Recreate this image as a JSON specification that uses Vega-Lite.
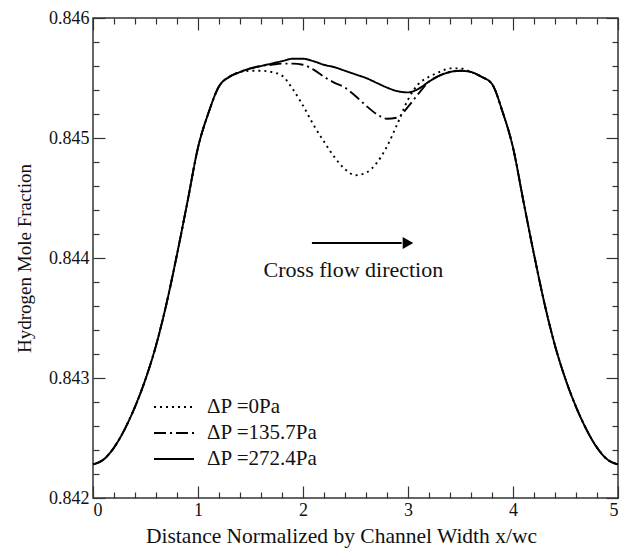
{
  "$schema": "https://vega.github.io/schema/vega-lite/v6.json",
  "width": 525,
  "height": 480,
  "autosize": {"type": "none"},
  "padding": {"left": 93, "top": 18, "right": 12, "bottom": 50},
  "background": "white",
  "config": {
    "view": {"stroke": "#333", "strokeWidth": 1.5},
    "font": "Liberation Serif, DejaVu Serif, serif",
    "axis": {
      "domain": false, "grid": false,
      "labelFont": "Liberation Serif, DejaVu Serif, serif", "labelFontSize": 18, "labelColor": "#111",
      "tickColor": "#333", "tickWidth": 1.2,
      "titleFont": "Liberation Serif, DejaVu Serif, serif", "titleFontSize": 19, "titleFontWeight": "normal", "titleColor": "#111",
      "labelOverlap": false
    }
  },
  "datasets": {
    "curves": [
      {"x":0,"y":0.84228,"s":"ΔP =272.4Pa"},{"x":0.1,"y":0.84232,"s":"ΔP =272.4Pa"},{"x":0.2,"y":0.84242,"s":"ΔP =272.4Pa"},{"x":0.3,"y":0.84257,"s":"ΔP =272.4Pa"},{"x":0.4,"y":0.84276,"s":"ΔP =272.4Pa"},{"x":0.5,"y":0.84299,"s":"ΔP =272.4Pa"},{"x":0.6,"y":0.84327,"s":"ΔP =272.4Pa"},{"x":0.7,"y":0.84362,"s":"ΔP =272.4Pa"},{"x":0.8,"y":0.84403,"s":"ΔP =272.4Pa"},{"x":0.9,"y":0.84447,"s":"ΔP =272.4Pa"},{"x":1.0,"y":0.84492,"s":"ΔP =272.4Pa"},{"x":1.1,"y":0.84521,"s":"ΔP =272.4Pa"},{"x":1.2,"y":0.84543,"s":"ΔP =272.4Pa"},{"x":1.3,"y":0.84551,"s":"ΔP =272.4Pa"},{"x":1.4,"y":0.84555,"s":"ΔP =272.4Pa"},{"x":1.5,"y":0.84558,"s":"ΔP =272.4Pa"},{"x":1.6,"y":0.8456,"s":"ΔP =272.4Pa"},{"x":1.7,"y":0.84562,"s":"ΔP =272.4Pa"},{"x":1.8,"y":0.84564,"s":"ΔP =272.4Pa"},{"x":1.9,"y":0.84566,"s":"ΔP =272.4Pa"},{"x":2.0,"y":0.84566,"s":"ΔP =272.4Pa"},{"x":2.1,"y":0.84564,"s":"ΔP =272.4Pa"},{"x":2.2,"y":0.84561,"s":"ΔP =272.4Pa"},{"x":2.3,"y":0.84559,"s":"ΔP =272.4Pa"},{"x":2.4,"y":0.84556,"s":"ΔP =272.4Pa"},{"x":2.5,"y":0.84553,"s":"ΔP =272.4Pa"},{"x":2.6,"y":0.8455,"s":"ΔP =272.4Pa"},{"x":2.7,"y":0.84546,"s":"ΔP =272.4Pa"},{"x":2.8,"y":0.84542,"s":"ΔP =272.4Pa"},{"x":2.9,"y":0.84539,"s":"ΔP =272.4Pa"},{"x":3.0,"y":0.84538,"s":"ΔP =272.4Pa"},{"x":3.1,"y":0.84541,"s":"ΔP =272.4Pa"},{"x":3.2,"y":0.84547,"s":"ΔP =272.4Pa"},{"x":3.3,"y":0.84552,"s":"ΔP =272.4Pa"},{"x":3.4,"y":0.84555,"s":"ΔP =272.4Pa"},{"x":3.5,"y":0.84556,"s":"ΔP =272.4Pa"},{"x":3.6,"y":0.84555,"s":"ΔP =272.4Pa"},{"x":3.7,"y":0.84551,"s":"ΔP =272.4Pa"},{"x":3.8,"y":0.84545,"s":"ΔP =272.4Pa"},{"x":3.9,"y":0.84522,"s":"ΔP =272.4Pa"},{"x":4.0,"y":0.84492,"s":"ΔP =272.4Pa"},{"x":4.1,"y":0.84447,"s":"ΔP =272.4Pa"},{"x":4.2,"y":0.84403,"s":"ΔP =272.4Pa"},{"x":4.3,"y":0.84362,"s":"ΔP =272.4Pa"},{"x":4.4,"y":0.84327,"s":"ΔP =272.4Pa"},{"x":4.5,"y":0.84299,"s":"ΔP =272.4Pa"},{"x":4.6,"y":0.84276,"s":"ΔP =272.4Pa"},{"x":4.7,"y":0.84257,"s":"ΔP =272.4Pa"},{"x":4.8,"y":0.84242,"s":"ΔP =272.4Pa"},{"x":4.9,"y":0.84232,"s":"ΔP =272.4Pa"},{"x":5.0,"y":0.84228,"s":"ΔP =272.4Pa"},

      {"x":0,"y":0.84228,"s":"ΔP =135.7Pa"},{"x":0.1,"y":0.84232,"s":"ΔP =135.7Pa"},{"x":0.2,"y":0.84242,"s":"ΔP =135.7Pa"},{"x":0.3,"y":0.84257,"s":"ΔP =135.7Pa"},{"x":0.4,"y":0.84276,"s":"ΔP =135.7Pa"},{"x":0.5,"y":0.84299,"s":"ΔP =135.7Pa"},{"x":0.6,"y":0.84327,"s":"ΔP =135.7Pa"},{"x":0.7,"y":0.84362,"s":"ΔP =135.7Pa"},{"x":0.8,"y":0.84403,"s":"ΔP =135.7Pa"},{"x":0.9,"y":0.84447,"s":"ΔP =135.7Pa"},{"x":1.0,"y":0.84492,"s":"ΔP =135.7Pa"},{"x":1.1,"y":0.84521,"s":"ΔP =135.7Pa"},{"x":1.2,"y":0.84543,"s":"ΔP =135.7Pa"},{"x":1.3,"y":0.84551,"s":"ΔP =135.7Pa"},{"x":1.4,"y":0.84555,"s":"ΔP =135.7Pa"},{"x":1.5,"y":0.84558,"s":"ΔP =135.7Pa"},{"x":1.6,"y":0.8456,"s":"ΔP =135.7Pa"},{"x":1.7,"y":0.84561,"s":"ΔP =135.7Pa"},{"x":1.8,"y":0.84562,"s":"ΔP =135.7Pa"},{"x":1.9,"y":0.84562,"s":"ΔP =135.7Pa"},{"x":2.0,"y":0.84561,"s":"ΔP =135.7Pa"},{"x":2.1,"y":0.84557,"s":"ΔP =135.7Pa"},{"x":2.2,"y":0.84551,"s":"ΔP =135.7Pa"},{"x":2.3,"y":0.84546,"s":"ΔP =135.7Pa"},{"x":2.4,"y":0.84542,"s":"ΔP =135.7Pa"},{"x":2.5,"y":0.84535,"s":"ΔP =135.7Pa"},{"x":2.6,"y":0.84527,"s":"ΔP =135.7Pa"},{"x":2.7,"y":0.8452,"s":"ΔP =135.7Pa"},{"x":2.8,"y":0.84516,"s":"ΔP =135.7Pa"},{"x":2.9,"y":0.84517,"s":"ΔP =135.7Pa"},{"x":3.0,"y":0.84526,"s":"ΔP =135.7Pa"},{"x":3.1,"y":0.84537,"s":"ΔP =135.7Pa"},{"x":3.2,"y":0.84547,"s":"ΔP =135.7Pa"},{"x":3.3,"y":0.84552,"s":"ΔP =135.7Pa"},{"x":3.4,"y":0.84555,"s":"ΔP =135.7Pa"},{"x":3.5,"y":0.84556,"s":"ΔP =135.7Pa"},{"x":3.6,"y":0.84555,"s":"ΔP =135.7Pa"},{"x":3.7,"y":0.84551,"s":"ΔP =135.7Pa"},{"x":3.8,"y":0.84545,"s":"ΔP =135.7Pa"},{"x":3.9,"y":0.84522,"s":"ΔP =135.7Pa"},{"x":4.0,"y":0.84492,"s":"ΔP =135.7Pa"},{"x":4.1,"y":0.84447,"s":"ΔP =135.7Pa"},{"x":4.2,"y":0.84403,"s":"ΔP =135.7Pa"},{"x":4.3,"y":0.84362,"s":"ΔP =135.7Pa"},{"x":4.4,"y":0.84327,"s":"ΔP =135.7Pa"},{"x":4.5,"y":0.84299,"s":"ΔP =135.7Pa"},{"x":4.6,"y":0.84276,"s":"ΔP =135.7Pa"},{"x":4.7,"y":0.84257,"s":"ΔP =135.7Pa"},{"x":4.8,"y":0.84242,"s":"ΔP =135.7Pa"},{"x":4.9,"y":0.84232,"s":"ΔP =135.7Pa"},{"x":5.0,"y":0.84228,"s":"ΔP =135.7Pa"},

      {"x":0,"y":0.84228,"s":"ΔP =0Pa"},{"x":0.1,"y":0.84232,"s":"ΔP =0Pa"},{"x":0.2,"y":0.84242,"s":"ΔP =0Pa"},{"x":0.3,"y":0.84257,"s":"ΔP =0Pa"},{"x":0.4,"y":0.84276,"s":"ΔP =0Pa"},{"x":0.5,"y":0.84299,"s":"ΔP =0Pa"},{"x":0.6,"y":0.84327,"s":"ΔP =0Pa"},{"x":0.7,"y":0.84362,"s":"ΔP =0Pa"},{"x":0.8,"y":0.84403,"s":"ΔP =0Pa"},{"x":0.9,"y":0.84447,"s":"ΔP =0Pa"},{"x":1.0,"y":0.84492,"s":"ΔP =0Pa"},{"x":1.1,"y":0.84521,"s":"ΔP =0Pa"},{"x":1.2,"y":0.84543,"s":"ΔP =0Pa"},{"x":1.3,"y":0.84551,"s":"ΔP =0Pa"},{"x":1.4,"y":0.84555,"s":"ΔP =0Pa"},{"x":1.5,"y":0.84556,"s":"ΔP =0Pa"},{"x":1.6,"y":0.84556,"s":"ΔP =0Pa"},{"x":1.7,"y":0.84555,"s":"ΔP =0Pa"},{"x":1.8,"y":0.84552,"s":"ΔP =0Pa"},{"x":1.9,"y":0.84541,"s":"ΔP =0Pa"},{"x":2.0,"y":0.84527,"s":"ΔP =0Pa"},{"x":2.1,"y":0.84511,"s":"ΔP =0Pa"},{"x":2.2,"y":0.84497,"s":"ΔP =0Pa"},{"x":2.3,"y":0.84484,"s":"ΔP =0Pa"},{"x":2.4,"y":0.84474,"s":"ΔP =0Pa"},{"x":2.5,"y":0.84469,"s":"ΔP =0Pa"},{"x":2.6,"y":0.84471,"s":"ΔP =0Pa"},{"x":2.7,"y":0.84479,"s":"ΔP =0Pa"},{"x":2.8,"y":0.84493,"s":"ΔP =0Pa"},{"x":2.9,"y":0.84512,"s":"ΔP =0Pa"},{"x":3.0,"y":0.84532,"s":"ΔP =0Pa"},{"x":3.1,"y":0.84545,"s":"ΔP =0Pa"},{"x":3.2,"y":0.84551,"s":"ΔP =0Pa"},{"x":3.3,"y":0.84555,"s":"ΔP =0Pa"},{"x":3.4,"y":0.84558,"s":"ΔP =0Pa"},{"x":3.5,"y":0.84558,"s":"ΔP =0Pa"},{"x":3.6,"y":0.84555,"s":"ΔP =0Pa"},{"x":3.7,"y":0.84551,"s":"ΔP =0Pa"},{"x":3.8,"y":0.84545,"s":"ΔP =0Pa"},{"x":3.9,"y":0.84522,"s":"ΔP =0Pa"},{"x":4.0,"y":0.84492,"s":"ΔP =0Pa"},{"x":4.1,"y":0.84447,"s":"ΔP =0Pa"},{"x":4.2,"y":0.84403,"s":"ΔP =0Pa"},{"x":4.3,"y":0.84362,"s":"ΔP =0Pa"},{"x":4.4,"y":0.84327,"s":"ΔP =0Pa"},{"x":4.5,"y":0.84299,"s":"ΔP =0Pa"},{"x":4.6,"y":0.84276,"s":"ΔP =0Pa"},{"x":4.7,"y":0.84257,"s":"ΔP =0Pa"},{"x":4.8,"y":0.84242,"s":"ΔP =0Pa"},{"x":4.9,"y":0.84232,"s":"ΔP =0Pa"},{"x":5.0,"y":0.84228,"s":"ΔP =0Pa"}
    ],
    "arrow": [{"x": 2.085, "x2": 2.94, "y": 0.844125}],
    "arrowhead": [{"x": 3.0, "y": 0.844125}],
    "note": [{"x": 2.48, "y": 0.8439, "label": "Cross flow direction"}]
  },
  "layer": [
    {
      "data": {"name": "curves"},
      "mark": {"type": "line", "interpolate": "monotone", "color": "black", "strokeWidth": 1.9},
      "encoding": {
        "x": {
          "field": "x", "type": "quantitative",
          "scale": {"domain": [0, 5], "nice": false},
          "axis": {
            "orient": "bottom",
            "values": [0,0.2,0.4,0.6,0.8,1,1.2,1.4,1.6,1.8,2,2.2,2.4,2.6,2.8,3,3.2,3.4,3.6,3.8,4,4.2,4.4,4.6,4.8,5],
            "labelExpr": "abs(datum.value - round(datum.value)) < 1e-6 ? format(datum.value, 'd') : ''",
            "tickSize": {"condition": {"test": "abs(datum.value - round(datum.value)) < 1e-6", "value": -12}, "value": -6},
            "labelPadding": 15,
            "title": "Distance Normalized by Channel Width x/wc",
            "titleFontSize": 21.5,
            "titleX": 248,
            "titlePadding": 0
          }
        },
        "y": {
          "field": "y", "type": "quantitative",
          "scale": {"domain": [0.842, 0.846], "nice": false, "zero": false},
          "axis": {
            "orient": "left",
            "values": [0.842,0.8422,0.8424,0.8426,0.8428,0.843,0.8432,0.8434,0.8436,0.8438,0.844,0.8442,0.8444,0.8446,0.8448,0.845,0.8452,0.8454,0.8456,0.8458,0.846],
            "labelExpr": "abs(datum.value*1000 - round(datum.value*1000)) < 1e-6 ? format(datum.value, '.3f') : ''",
            "tickSize": {"condition": {"test": "abs(datum.value*1000 - round(datum.value*1000)) < 1e-6", "value": -12}, "value": -6},
            "labelPadding": 16,
            "title": "Hydrogen Mole Fraction",
            "titleFontSize": 19,
            "titlePadding": 14
          }
        },
        "strokeDash": {
          "field": "s", "type": "nominal",
          "scale": {"domain": ["ΔP =0Pa", "ΔP =135.7Pa", "ΔP =272.4Pa"], "range": [[2, 4], [12, 4, 2, 4], [1, 0]]},
          "legend": {
            "title": null, "orient": "none", "legendX": 70, "legendY": 378,
            "symbolType": "M-2,0L2,0", "symbolSize": 400, "symbolStrokeWidth": 1.9, "symbolStrokeColor": "black",
            "labelFont": "Liberation Serif, DejaVu Serif, serif", "labelFontSize": 21, "labelColor": "#111",
            "labelOffset": 22, "rowPadding": 5, "padding": 0
          }
        }
      }
    },
    {
      "data": {"name": "curves"},
      "mark": {"type": "line", "strokeOpacity": 0},
      "encoding": {
        "x": {
          "field": "x", "type": "quantitative",
          "axis": {
            "orient": "top", "labels": false, "title": null,
            "values": [0,0.2,0.4,0.6,0.8,1,1.2,1.4,1.6,1.8,2,2.2,2.4,2.6,2.8,3,3.2,3.4,3.6,3.8,4,4.2,4.4,4.6,4.8,5],
            "tickSize": {"condition": {"test": "abs(datum.value - round(datum.value)) < 1e-6", "value": -12}, "value": -6}
          }
        },
        "y": {
          "field": "y", "type": "quantitative",
          "axis": {
            "orient": "right", "labels": false, "title": null,
            "values": [0.842,0.8422,0.8424,0.8426,0.8428,0.843,0.8432,0.8434,0.8436,0.8438,0.844,0.8442,0.8444,0.8446,0.8448,0.845,0.8452,0.8454,0.8456,0.8458,0.846],
            "tickSize": {"condition": {"test": "abs(datum.value*1000 - round(datum.value*1000)) < 1e-6", "value": -12}, "value": -6}
          }
        }
      }
    },
    {
      "data": {"name": "arrow"},
      "mark": {"type": "rule", "color": "black", "strokeWidth": 1.8},
      "encoding": {
        "x": {"field": "x", "type": "quantitative", "axis": null},
        "x2": {"field": "x2"},
        "y": {"field": "y", "type": "quantitative", "axis": null}
      }
    },
    {
      "data": {"name": "arrowhead"},
      "mark": {"type": "point", "shape": "triangle-right", "filled": true, "color": "black", "size": 150, "opacity": 1},
      "encoding": {
        "x": {"field": "x", "type": "quantitative", "axis": null},
        "y": {"field": "y", "type": "quantitative", "axis": null}
      }
    },
    {
      "data": {"name": "note"},
      "mark": {"type": "text", "font": "Liberation Serif, DejaVu Serif, serif", "fontSize": 22, "color": "#111", "align": "center", "baseline": "middle"},
      "encoding": {
        "x": {"field": "x", "type": "quantitative", "axis": null},
        "y": {"field": "y", "type": "quantitative", "axis": null},
        "text": {"field": "label"}
      }
    }
  ],
  "resolve": {"axis": {"x": "independent", "y": "independent"}}
}
